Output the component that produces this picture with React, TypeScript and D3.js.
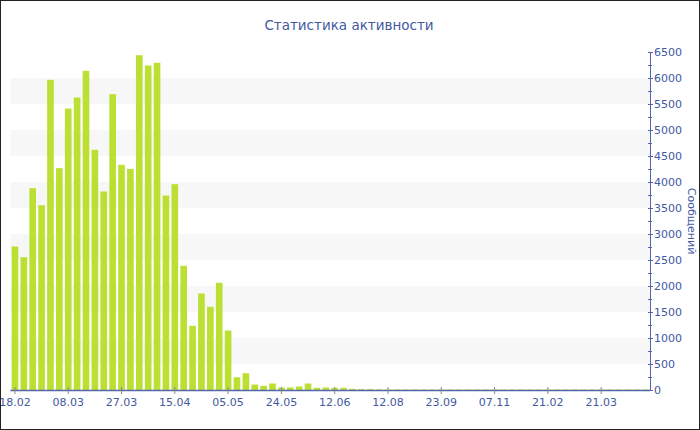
import React from "react";
import * as d3 from "d3";

const title = "Статистика активности";
const yTitle = "Сообщений";

const values: number[] = [
  2760, 2554, 3881, 3554, 5965, 4266, 5413, 5625, 6138, 4619,
  3817, 5689, 4330, 4253, 6438, 6240, 6292, 3740, 3958, 2388,
  1234, 1856, 1600, 2061, 1144, 246, 323, 106, 80, 125,
  48, 48, 67, 125, 42, 48, 42, 42, 22, 16,
  16, 13, 10, 10, 10, 10, 10, 10, 10, 10,
  10, 10, 10, 10, 10, 10, 10, 10, 10, 10,
  10, 10, 10, 10, 10, 10, 10, 10, 10, 10,
  10, 10,
];

const tickLabels: string[] = [
  "18.02", "08.03", "27.03", "15.04", "05.05", "24.05",
  "12.06", "12.08", "23.09", "07.11", "21.02", "21.03",
];
const tickEvery = 6;

const yMax = 6500;
const yMajorStep = 500;
const yMinorStep = 250;

const W = 700;
const H = 430;
const left = 10.5;
const right = 650;
const top = 52;
const bottom = 390;

const textColor = "#4359a3";
const axisColor = "#5367ad";
const barColor = "#bbe033";
const font = "DejaVu Sans, Verdana, sans-serif";

export default function App() {
  const idx = d3.range(values.length);
  const x = d3
    .scaleBand<number>()
    .domain(idx)
    .range([left, right])
    .paddingInner(0.25)
    .paddingOuter(0.125);
  const y = d3.scaleLinear().domain([0, yMax]).range([bottom, top]);

  const majors = d3.range(0, yMax + 1, yMajorStep);
  const minors = d3.range(0, yMax + 1, yMinorStep).filter((v) => v % yMajorStep !== 0);
  const bands = majors.filter((v) => v % 1000 === 500 && v + 500 <= yMax);

  const tickIdx = tickLabels.map((_, i) => i * tickEvery);
  const cx = (i: number) => (x(i) as number) + x.bandwidth() / 2;

  return (
    <svg
      width={W}
      height={H}
      style={{ position: "absolute", left: 0, top: 0, background: "#fff" }}
      fontFamily={font}
    >
      {bands.map((v) => (
        <rect
          key={"b" + v}
          x={left}
          y={y(v + 500)}
          width={right - left}
          height={y(v) - y(v + 500)}
          fill="#f7f7f7"
        />
      ))}
      {values.map((v, i) => (
        <rect
          key={"r" + i}
          x={x(i)}
          y={y(v)}
          width={x.bandwidth()}
          height={bottom - y(v)}
          fill={barColor}
        />
      ))}
      {/* x axis */}
      <line x1={left} x2={right} y1={bottom + 0.5} y2={bottom + 0.5} stroke={axisColor} strokeWidth={1.5} />
      {tickIdx.map((i, k) => (
        <g key={"xt" + i}>
          <line x1={cx(i)} x2={cx(i)} y1={bottom - 3} y2={bottom + 4} stroke="#8a8a8a" strokeWidth={1} />
          <text
            x={cx(i)}
            y={bottom + 16}
            textAnchor="middle"
            fontSize={11}
            fill={textColor}
          >
            {tickLabels[k]}
          </text>
        </g>
      ))}
      {/* y axis on right */}
      <line x1={right + 0.5} x2={right + 0.5} y1={top} y2={bottom + 1} stroke={axisColor} strokeWidth={1} />
      {minors.map((v) => (
        <line key={"mi" + v} x1={right - 2} x2={right + 2} y1={y(v) + 0.5} y2={y(v) + 0.5} stroke={axisColor} strokeWidth={1} />
      ))}
      {majors.map((v) => (
        <g key={"ma" + v}>
          <line x1={right - 2} x2={right + 3} y1={y(v) + 0.5} y2={y(v) + 0.5} stroke={axisColor} strokeWidth={1} />
          <text x={right + 4} y={y(v) + 4} fontSize={11} fill={textColor}>
            {v}
          </text>
        </g>
      ))}
      <text
        transform={`translate(${688},${(top + bottom) / 2}) rotate(90)`}
        textAnchor="middle"
        fontSize={11}
        fill={textColor}
      >
        {yTitle}
      </text>
      <text x={349} y={30} textAnchor="middle" fontSize={13.5} fill={textColor}>
        {title}
      </text>
      <rect x={0.5} y={0.5} width={W - 1} height={H - 1} fill="none" stroke="#222" strokeWidth={1} />
    </svg>
  );
}
